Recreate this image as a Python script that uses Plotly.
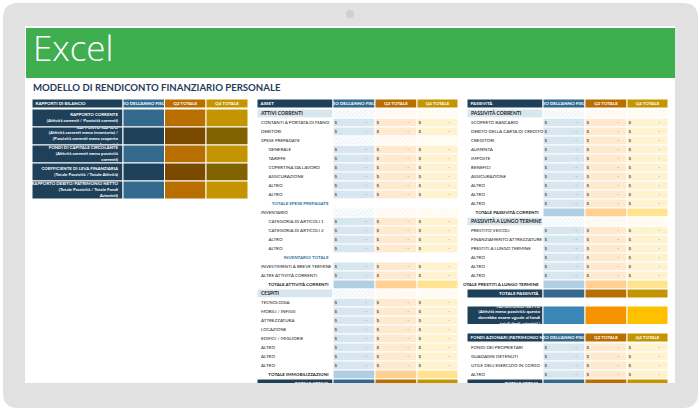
import plotly.graph_objects as go

W = 700
H = 412

NAVY = "#1F4059"
BLUE = "#32698C"
ORANGE = "#B96E00"
GOLD = "#C49500"
LIGHT = ["#D8E6EF", "#FFE9CF", "#FFF2CF"]
TOTAL = ["#B0CEE2", "#FFD08F", "#FFE391"]
DARK = [BLUE, ORANGE, GOLD]
DEEP = [NAVY, "#7A4A00", "#806300"]
BIG = ["#3A86B7", "#F59400", "#FFC000"]
FONT = "Lato"
SMALL = 4.5

value_heads = ["INIZIO DELL'ANNO FISCALE", "Q2 TOTALE", "Q4 TOTALE"]

ratio_head = "RAPPORTI DI BILANCIO"
ratio_labels = [
    "RAPPORTO CORRENTE<br>(Attività correnti / Passività correnti)",
    "RAPPORTO RAPIDO<br>(Attività correnti meno inventario) /<br>(Passività correnti meno scoperto<br>bancario)",
    "FONDI DI CAPITALE CIRCOLANTE<br>(Attività correnti meno passività<br>correnti)",
    "COEFFICIENTE DI LEVA FINANZIARIA<br>(Totale Passività / Totale Attività)",
    "RAPPORTO DEBITO/PATRIMONIO NETTO<br>(Totale Passività / Totale Fondi<br>Azionisti)",
]

# kinds: s section, h hatched plain, n normal, i indented, t sub total, T total, d dark total
asset_head = "ASSET"
asset_labels = [
    "ATTIVI CORRENTI", "CONTANTI A PORTATA DI MANO", "DEBITORI", "SPESE PREPAGATE",
    "GENERALE", "TARIFFE", "COPERTINA DA LAVORO", "ASSICURAZIONE", "ALTRO", "ALTRO",
    "TOTALE SPESE PREPAGATE", "INVENTARIO", "CATEGORIA DI ARTICOLI 1",
    "CATEGORIA DI ARTICOLI 2", "ALTRO", "ALTRO", "INVENTARIO TOTALE",
    "INVESTIMENTI A BREVE TERMINE", "ALTRE ATTIVITÀ CORRENTI", "TOTALE ATTIVITÀ CORRENTI",
    "CESPITI", "TECNOLOGIA", "MOBILI / INFISSI", "ATTREZZATURA", "LOCAZIONE",
    "EDIFICI / MIGLIORIE", "ALTRO", "ALTRO", "ALTRO", "TOTALE IMMOBILIZZAZIONI", "TOTALE ATTIVO",
]
asset_kinds = list("snnhiiiiiithiiiitnnTsnnnnnnnnTd")

liability_head = "PASSIVITÀ"
liability_labels = [
    "PASSIVITÀ CORRENTI", "SCOPERTO BANCARIO", "DEBITO DELLA CARTA DI CREDITO", "CREDITORI",
    "AUMENTA", "IMPOSTE", "BENEFICI", "ASSICURAZIONE", "ALTRO", "ALTRO", "ALTRO",
    "TOTALE PASSIVITÀ CORRENTI", "PASSIVITÀ A LUNGO TERMINE", "PRESTITO VEICOLI",
    "FINANZIAMENTO ATTREZZATURE", "PRESTITI A LUNGO TERMINE", "ALTRO", "ALTRO", "ALTRO",
    "TOTALE PRESTITI A LUNGO TERMINE", "TOTALE PASSIVITÀ",
]
liability_kinds = list("snnnnnnnnnnTsnnnnnnTd")

net_worth_label = ("PATRIMONIO NETTO<br>(Attività meno passività: questo<br>"
                   "dovrebbe essere uguale ai fondi<br>totali degli azionisti.)")

equity_head = "FONDI AZIONARI (PATRIMONIO NETTO)"
equity_labels = ["FONDI DEI PROPRIETARI", "GUADAGNI DETENUTI", "UTILE DELL'ESERCIZIO IN CORSO", "ALTRO", "TOTALE ATTIVO"]
equity_kinds = list("nnnnd")

fig = go.Figure()
axis_count = 0


def new_axes(x0, x1, y0, y1):
    # axis units are page pixels, so every group of marks sits on its own clipped little plot
    global axis_count
    axis_count += 1
    n = "" if axis_count == 1 else str(axis_count)
    fig.update_layout({
        "xaxis" + n: dict(domain=[x0 / W, x1 / W], range=[x0, x1], visible=False, fixedrange=True,
                          anchor="y" + n),
        "yaxis" + n: dict(domain=[1 - y1 / H, 1 - y0 / H], range=[y1, y0], visible=False, fixedrange=True,
                          anchor="x" + n),
    })
    return "x" + n, "y" + n


def add_text(axes, xs, ys, texts, position, color="white", size=SMALL):
    fig.add_trace(go.Scatter(
        x=xs, y=ys, text=texts, mode="text", textposition=position, hoverinfo="skip",
        textfont=dict(family=FONT, size=size, color=color),
        xaxis=axes[0], yaxis=axes[1],
    ))


def add_column(axes, x0, x1, tops, heights, colors, hatch_color=None):
    marker = dict(color=colors, line=dict(color="white", width=1))
    if hatch_color:
        marker["pattern"] = dict(shape="/", fgcolor=hatch_color, bgcolor="white", size=3, solidity=0.5)
    fig.add_trace(go.Bar(
        orientation="h", base=[x0] * len(tops), x=[x1 - x0] * len(tops),
        y=[t + h / 2 for t, h in zip(tops, heights)], width=heights,
        marker=marker, hoverinfo="skip", xaxis=axes[0], yaxis=axes[1],
    ))


def bold(text):
    return "<b>" + text + "</b>"


def add_header(x, y0, head):
    axes = new_axes(x[0] - 4, x[4] + 1, y0 - 1, y0 + 10)
    for i, color in enumerate([NAVY, *DARK]):
        add_column(axes, x[i], x[i + 1], [y0], [9], [color])
    label_axes = new_axes(x[0], x[1], y0, y0 + 9)
    add_text(label_axes, [x[0] + 3.5], [y0 + 4.5], [bold(head)], "middle right")
    col_axes = new_axes(x[1], x[2], y0, y0 + 9)
    add_text(col_axes, [(x[1] + x[2]) / 2], [y0 + 4.5], [bold(value_heads[0])], "middle center")
    add_text(axes, [(x[2] + x[3]) / 2, (x[3] + x[4]) / 2], [y0 + 4.5] * 2, [bold(h) for h in value_heads[1:]],
             "middle center")


def cell_color(kind, i):
    if kind == "t":
        return "white"
    if kind == "T":
        return TOTAL[i]
    if kind == "d":
        return DARK[i]
    return LIGHT[i]


def add_sheet(x, y0, y_clip, head, labels, kinds):
    add_header(x, y0, head)
    axes = new_axes(x[0] - 4, x[4] + 1, y0 + 9.5, y_clip)
    tops = [y0 + 10 + 9 * r for r in range(len(labels))]
    heights = [9] * len(labels)
    mids = [t + 4.5 for t in tops]
    label_colors = [LIGHT[0] if k == "s" else NAVY if k == "d" else "white" for k in kinds]
    add_column(axes, x[0], x[1], tops, heights, label_colors)
    solid = [r for r, k in enumerate(kinds) if k not in "sh"]
    hatched = [r for r, k in enumerate(kinds) if k in "sh"]
    for i in range(3):
        add_column(axes, x[i + 1], x[i + 2], [tops[r] for r in solid], [9] * len(solid),
                   [cell_color(kinds[r], i) for r in solid])
        if hatched:
            add_column(axes, x[i + 1], x[i + 2], [tops[r] for r in hatched], [9] * len(hatched),
                       "white", LIGHT[i])
    plain = [r for r, k in enumerate(kinds) if k in "hni"]
    add_text(axes, [x[0] + (11.5 if kinds[r] == "i" else 4) for r in plain], [mids[r] for r in plain],
             [labels[r] for r in plain], "middle right", "#222222")
    sections = [r for r, k in enumerate(kinds) if k == "s"]
    add_text(axes, [x[0] + 4] * len(sections), [mids[r] for r in sections], [bold(labels[r]) for r in sections],
             "middle right", "#222222", size=5)
    right = [r for r, k in enumerate(kinds) if k in "tTd"]
    add_text(axes, [x[1] - 4.5] * len(right), [mids[r] for r in right], [bold(labels[r]) for r in right], "middle left",
             ["white" if kinds[r] == "d" else "#2E75A0" if kinds[r] == "t" else "#222222" for r in right])
    money = [r for r, k in enumerate(kinds) if k in "ni"]
    for i in range(3):
        add_text(axes, [x[i + 1] + 1.5] * len(money), [mids[r] for r in money], ["$"] * len(money), "middle right",
                 "#333333")
        add_text(axes, [x[i + 2] - 8] * len(money), [mids[r] for r in money], ["-"] * len(money), "middle left",
                 "#333333")


# ratios
ratio_x = [32, 123, 164.5, 206, 248]
add_header(ratio_x, 99, ratio_head)
ratio_axes = new_axes(30, 249, 108.5, 200)
ratio_tops = [109 + 18 * r for r in range(len(ratio_labels))]
ratio_heights = [18] * len(ratio_labels)
add_column(ratio_axes, ratio_x[0], ratio_x[1], ratio_tops, ratio_heights, [NAVY] * len(ratio_labels))
for i in range(3):
    add_column(ratio_axes, ratio_x[i + 1], ratio_x[i + 2], ratio_tops, ratio_heights,
               [DARK[i] if r % 2 == 0 else DEEP[i] for r in range(len(ratio_labels))])
for top, label in zip(ratio_tops, ratio_labels):
    row_axes = new_axes(ratio_x[0], ratio_x[1], top + 0.5, top + 17.5)
    add_text(row_axes, [ratio_x[1] - 5], [top + 9], [bold(label)], "middle left", size=4.4)

sheet_x = [467, 543, 585, 627, 668]
add_sheet([257, 333, 375, 417, 458], 99, 383, asset_head, asset_labels, asset_kinds)
add_sheet(sheet_x, 99, 298, liability_head, liability_labels, liability_kinds)
add_sheet(sheet_x, 333, 383, equity_head, equity_labels, equity_kinds)

# net worth band
worth_axes = new_axes(466, 669, 305.5, 325)
for i, color in enumerate([NAVY, *BIG]):
    add_column(worth_axes, sheet_x[i], sheet_x[i + 1], [306], [18.5], [color])
worth_text_axes = new_axes(sheet_x[0], sheet_x[1], 306.5, 324)
add_text(worth_text_axes, [sheet_x[1] - 3], [315.25], [bold(net_worth_label)], "middle left", size=4.4)

R = 15
x0, x1, y0, y1 = 3 / W, 698 / W, 1 - 408 / H, 1 - 3 / H
rx, ry = R / W, R / H
frame_path = (f"M {x0 + rx} {y1} L {x1 - rx} {y1} Q {x1} {y1} {x1} {y1 - ry} L {x1} {y0 + ry} "
              f"Q {x1} {y0} {x1 - rx} {y0} L {x0 + rx} {y0} Q {x0} {y0} {x0} {y0 + ry} L {x0} {y1 - ry} "
              f"Q {x0} {y1} {x0 + rx} {y1} Z")

fig.update_layout(
    width=W, height=H, margin=dict(l=0, r=0, t=0, b=0), paper_bgcolor="white", plot_bgcolor="rgba(0,0,0,0)",
    barmode="overlay", showlegend=False,
    shapes=[
        dict(type="path", path=frame_path, xref="paper", yref="paper", fillcolor="#E1E1E1", line_width=0, layer="below"),
        dict(type="rect", xref="paper", yref="paper", x0=25 / W, x1=675 / W, y0=1 - 383 / H, y1=1 - 26 / H,
             fillcolor="white", line_width=0, layer="below"),
        dict(type="rect", xref="paper", yref="paper", x0=26 / W, x1=675 / W, y0=1 - 78 / H, y1=1 - 28 / H,
             fillcolor="#3FAE4F", line_width=0, layer="below"),
        dict(type="circle", xref="paper", yref="paper", x0=346 / W, x1=354 / W, y0=1 - 18 / H, y1=1 - 10 / H,
             fillcolor="#CFCFCF", line_width=0, layer="below"),
    ],
    annotations=[
        dict(text="Excel", x=31 / W, y=1 - 47.5 / H, xref="paper", yref="paper", xanchor="left", yanchor="middle",
             showarrow=False, font=dict(family="Open Sans", size=35, color="white", weight=300)),
        dict(text="<b>MODELLO DI RENDICONTO FINANZIARIO PERSONALE</b>", x=31 / W, y=1 - 87.5 / H,
             xref="paper", yref="paper", xanchor="left", yanchor="middle", showarrow=False,
             font=dict(family=FONT, size=9.6, color="#1F3E5A")),
    ],
)

fig.write_html("out.html", config=dict(displayModeBar=False),
               post_script="document.body.style.margin='0';document.body.style.overflow='hidden';")
